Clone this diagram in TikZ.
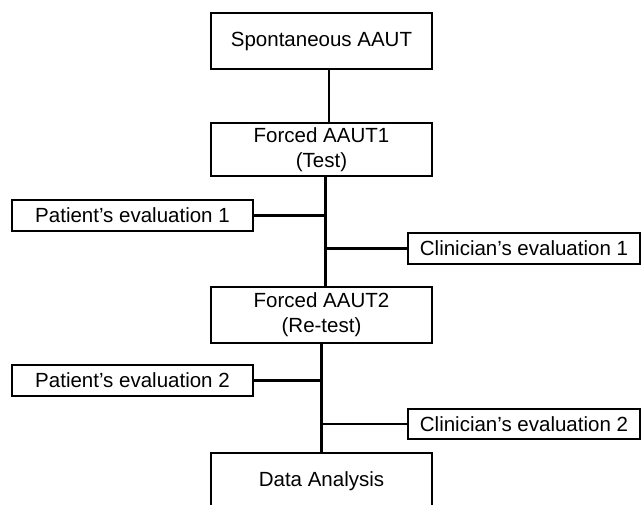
\documentclass[tikz,border=0pt]{standalone}
\usepackage{fontspec}
\setmainfont{Liberation Sans}
\usepackage{tikz}

\begin{document}
\begin{tikzpicture}[x=1pt,y=-1pt,line width=2.6pt,
        stage/.style={draw,minimum width=221pt,inner sep=0pt,outer sep=0pt,align=center,
            font=\fontsize{20.5}{25}\selectfont},
        evalbox/.style={draw,minimum height=31pt,inner sep=0pt,outer sep=0pt,
            font=\fontsize{20.5}{25}\selectfont}]
    \useasboundingbox (0,0) rectangle (643,505);
    \clip (0,0) rectangle (643,505);
    % main stages
    \node[stage,minimum height=56pt] (spont) at (321.5,41) {Spontaneous AAUT};
    \node[stage,minimum height=53pt] (test) at (321.5,149.5) {Forced AAUT1\\(Test)};
    \node[stage,minimum height=56pt] (retest) at (321.5,315) {Forced AAUT2\\(Re-test)};
    \node[stage,minimum height=57pt] (data) at (321.5,481.5) {Data Analysis};
    % evaluations
    \node[evalbox,minimum width=241pt] (pat1) at (132.5,215.5) {Patient’s evaluation 1};
    \node[evalbox,minimum width=232pt] (clin1) at (524,248.5) {Clinician’s evaluation 1};
    \node[evalbox,minimum width=241pt] (pat2) at (132.5,380.5) {Patient’s evaluation 2};
    \node[evalbox,minimum width=232pt,minimum height=30pt] (clin2) at (524,424) {Clinician’s evaluation 2};
    % spine
    \draw ([xshift=7.5pt]spont.south) -- ([xshift=7.5pt]spont.south |- test.north);
    \draw ([xshift=4pt]test.south) -- ([xshift=4pt]test.south |- retest.north);
    \draw (retest.south) -- (data.north);
    % branches
    \draw (pat1.east) -- ([xshift=4pt]test.south |- pat1.east);
    \draw (clin1.west) -- ([xshift=4pt]test.south |- clin1.west);
    \draw (pat2.east) -- (retest.south |- pat2.east);
    \draw (clin2.west) -- (retest.south |- clin2.west);
\end{tikzpicture}
\end{document}
